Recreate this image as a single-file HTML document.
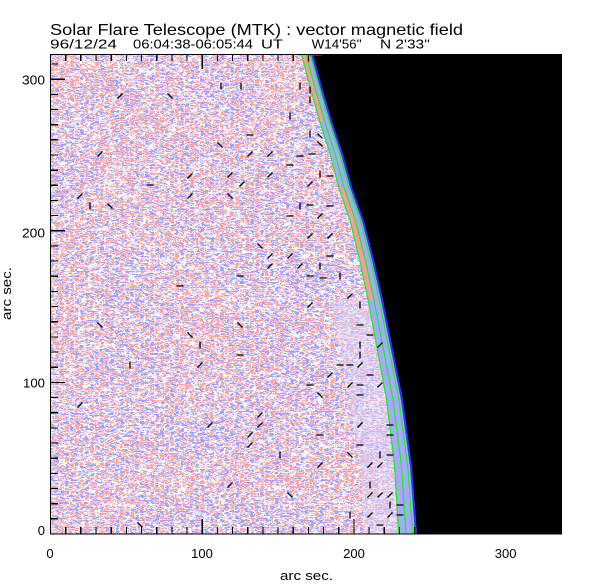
<!DOCTYPE html>
<html><head><meta charset="utf-8"><style>html,body{margin:0;padding:0;background:#fff}svg{display:block}</style></head>
<body>
<svg width="612" height="585" viewBox="0 0 612 585" xmlns="http://www.w3.org/2000/svg" font-family="'Liberation Sans', sans-serif">
<defs>
<filter id="nz" filterUnits="userSpaceOnUse" x="50" y="54" width="512" height="480" color-interpolation-filters="sRGB">
<feTurbulence type="fractalNoise" baseFrequency="0.2 0.45" numOctaves="2" seed="7" result="f0"/>
<feColorMatrix in="f0" type="matrix" values="1 0 0 0 0  1 0 0 0 0  0 0 0 0 1  0 0 0 0 1" result="f"/>
<feTurbulence type="fractalNoise" baseFrequency="0.012 0.02" numOctaves="2" seed="3" result="c0"/>
<feColorMatrix in="c0" type="matrix" values="1 0 0 0 0  1 0 0 0 0  0 0 0 0 1  0 0 0 0 1" result="c"/>
<feComposite in="f" in2="c" operator="arithmetic" k1="0" k2="0.95" k3="0.12" k4="-0.035"/>
<feComponentTransfer>
<feFuncR type="discrete" tableValues="0 0 0 0 0 0 0 0 0 0 0 0 0 0 0 0 0 0 0 0 0 0 0 0 0 0 0 0 1 1 1 1 1 1 1 1 1 1 1 1 1 1 1 1 1 1 1 1 1 1"/>
<feFuncG type="discrete" tableValues="1 1 1 1 1 1 1 1 1 1 1 1 1 1 1 1 1 1 1 1 1 1 0 0 0 0 0 0 0 0 0 0 0 0 0 0 0 0 0 0 0 0 0 0 0 0 0 0 0 0"/>
<feFuncB type="linear" slope="0" intercept="1"/>
<feFuncA type="linear" slope="0" intercept="1"/>
</feComponentTransfer>
<feColorMatrix type="matrix" values="0 -0.36 0 0 1  -0.36 -0.36 0 0 1  -0.36 0 0 0 1  0 0 0 0 1"/>
</filter>
</defs>

<!-- noise field -->
<rect x="50" y="54" width="512" height="480" fill="#fff" filter="url(#nz)"/>
<!-- bluish haze near limb -->
<polygon fill="#d8d8ff" opacity="0.45" points="330,300 340,350 350,400 360,467 365,534 398,534 394,467 386,400 377,350 367.5,300"/>

<!-- limb band -->
<polygon fill="#a8a8ff" points="301,54 309.5,87 319,121 329.5,154 338,187 349.5,221 359,260 367.5,300 377,350 386,400 394,467 398,534 417,534 412,467 403,400 393,350 383,300 374,260 364,221 352,187 343,154 332,121 322,87 313,54"/>
<polygon fill="#ff9a9a" points="339.5,187 351,221 360.5,260 369,300 373,300 364.5,260 355,221 343,187"/>
<polygon fill="#ff9a9a" points="302.5,54 311,87 320.5,121 323.5,121 314,87 305.5,54"/>
<g fill="none" stroke="#00ff00" stroke-width="1.1">
<polyline points="310.2,54 319.1,87 329,121 339.9,154 348.8,187 360.6,221 370.5,260 379.4,300 389.2,350 399,400 407.8,467 412.6,534"/>
<polyline points="306,54 314.7,87 324.5,121 335.2,154 343.9,187 355.6,221 365.3,260 374,300 383.6,350 393.1,400 401.6,467 406,534"/>
<polyline points="301.6,54 310.1,87 319.7,121 330.2,154 338.7,187 350.2,221 359.7,260 368.1,300 377.4,350 386.7,400 394.7,467 398.8,534"/>
</g>
<polyline fill="none" stroke="#3030ff" stroke-width="2" points="312,54 321,87 331,121 342,154 351,187 363,221 373,260 382,300 392,350 402,400 411,467 416,534"/>

<!-- black off-disk -->
<path fill="#000" d="M313,54 L322,87 L332,121 L343,154 L352,187 L364,221 L374,260 L383,300 L393,350 L403,400 L412,467 L417,534 L562,534 L562,54 Z"/>
<path fill="none" stroke="#ff2020" stroke-width="1.3" d="M308.5,55 L321,55 M308.5,55 L308.5,62"/>

<!-- vectors -->
<path fill="none" stroke="#000" stroke-width="1.3" d="
M117.5 98.5L122.5 93.5 M167.5 93.5L172.5 98.5 M221 82.5L221 89.5 M241 82.5L241 89.5 M300 82.5L300 89.5 M310 86.5L310 93.5
M290 112.5L290 119.5 M310 96.5L310 103.5 M246.5 135L253.5 135 M217.5 142.5L222.5 147.5 M97.5 156.5L102.5 151.5 M247.5 156.5L252.5 151.5
M267.5 156.5L272.5 151.5 M296.5 156L303.5 156 M308.5 154L315.5 154 M286.5 165L293.5 165 M310 130.5L310 137.5 M317.5 133.5L322.5 138.5
M317.5 141.5L322.5 146.5 M187.5 178.5L192.5 173.5 M146.5 185L153.5 185 M227.5 177.5L232.5 172.5 M239.5 186.5L244.5 181.5 M267.5 177.5L272.5 172.5
M307.5 186.5L312.5 181.5 M320 170.5L320 177.5 M326.5 176L333.5 176 M77.5 198.5L82.5 193.5 M90 202.5L90 209.5 M107.5 203.5L112.5 208.5
M187.5 198.5L192.5 193.5 M227.5 193.5L232.5 198.5 M300 202.5L300 209.5 M306.5 205L313.5 205 M326.5 206L333.5 206 M286.5 216L293.5 216
M317.5 218.5L322.5 213.5 M307.5 238.5L312.5 233.5 M327.5 238.5L332.5 233.5 M257.5 243.5L262.5 248.5 M267.5 258.5L272.5 253.5 M287.5 258.5L292.5 253.5
M267.5 268.5L272.5 263.5 M297.5 268.5L302.5 263.5 M320 262.5L320 269.5 M326.5 256L333.5 256 M236.5 276L243.5 276 M306.5 276L313.5 276
M319.5 278L326.5 278 M340 272.5L340 279.5 M176.5 286L183.5 286 M347.5 298.5L352.5 293.5
M307.5 307.5L312.5 302.5 M360 301.5L360 308.5 M97.5 322.5L102.5 327.5 M237.5 322.5L242.5 327.5 M187.5 332.5L192.5 337.5 M356.5 325L363.5 325
M366.5 335L373.5 335 M200 341.5L200 348.5 M360 341.5L360 348.5 M377.5 347.5L382.5 342.5 M236.5 355L243.5 355 M130 361.5L130 368.5
M197.5 367.5L202.5 362.5 M360 351.5L360 358.5 M336.5 365L343.5 365 M346.5 365L353.5 365 M357.5 367.5L362.5 362.5 M327.5 377.5L332.5 372.5
M366.5 375L373.5 375 M306.5 385L313.5 385 M317.5 392.5L322.5 397.5 M347.5 387.5L352.5 382.5 M356.5 385L363.5 385 M356.5 395L363.5 395
M377.5 387.5L382.5 382.5 M77.5 407.5L82.5 402.5 M257.5 417.5L262.5 412.5 M257.5 427.5L262.5 422.5 M207.5 427.5L212.5 422.5 M247.5 437.5L252.5 432.5
M247.5 447.5L252.5 442.5 M316.5 435L323.5 435 M357.5 427.5L362.5 422.5 M386.5 425L393.5 425 M386.5 435L393.5 435 M356.5 445L363.5 445
M280 451.5L280 458.5 M347.5 452.5L352.5 457.5 M380 451.5L380 458.5 M386.5 455L393.5 455 M317.5 467.5L322.5 462.5 M367.5 467.5L372.5 462.5
M377.5 467.5L382.5 462.5 M227.5 487.5L232.5 482.5 M287.5 492.5L292.5 497.5 M370 481.5L370 488.5 M367.5 497.5L372.5 492.5 M377.5 497.5L382.5 492.5
M387.5 497.5L392.5 492.5 M390 501.5L390 508.5 M396.5 505L403.5 505 M350 511.5L350 518.5 M367.5 517.5L372.5 512.5 M387.5 517.5L392.5 512.5
M396.5 515L403.5 515 M137.5 522.5L142.5 527.5 M376.5 525L383.5 525"/>

<!-- frame & ticks -->
<g stroke="#000" stroke-width="1.2" fill="none" shape-rendering="crispEdges">
<path d="M50.5,54 L50.5,534 L562,534 M50,54.5 L562,54.5"/>
<path d="M50.5,534V519 M65.7,534V527 M80.8,534V527 M96,534V527 M111.2,534V527 M126.4,534V527 M141.5,534V527 M156.7,534V527 M171.9,534V527 M187,534V527 M202.2,534V519 M217.4,534V527 M232.5,534V527 M247.7,534V527 M262.9,534V527 M278.1,534V527 M293.2,534V527 M308.4,534V527 M323.6,534V527 M338.7,534V527 M353.9,534V519 M369.1,534V527 M384.2,534V527 M399.4,534V527 M414.6,534V527"/>
<path d="M50.5,54V69 M65.7,54V61 M80.8,54V61 M96,54V61 M111.2,54V61 M126.4,54V61 M141.5,54V61 M156.7,54V61 M171.9,54V61 M187,54V61 M202.2,54V69 M217.4,54V61 M232.5,54V61 M247.7,54V61 M262.9,54V61 M278.1,54V61 M293.2,54V61 M308.4,54V61"/>
<path d="M50,518.8H58 M50,503.7H58 M50,488.5H58 M50,473.4H58 M50,458.2H58 M50,443H58 M50,427.9H58 M50,412.7H58 M50,397.6H58 M50,382.4H65 M50,367.2H58 M50,352.1H58 M50,336.9H58 M50,321.8H58 M50,306.6H58 M50,291.4H58 M50,276.3H58 M50,261.1H58 M50,246H58 M50,230.8H65 M50,215.6H58 M50,200.5H58 M50,185.3H58 M50,170.2H58 M50,155H58 M50,139.8H58 M50,124.7H58 M50,109.5H58 M50,94.4H58 M50,79.2H65 M50,64H58"/>
</g>

<!-- labels -->
<g fill="#000" font-size="13">
<text x="50" y="558" text-anchor="middle">0</text>
<text x="202" y="558" text-anchor="middle">100</text>
<text x="354" y="558" text-anchor="middle">200</text>
<text x="505.6" y="558" text-anchor="middle">300</text>
<text x="45" y="535" text-anchor="end">0</text>
<text x="45" y="387.5" text-anchor="end" textLength="22" lengthAdjust="spacingAndGlyphs">100</text>
<text x="45" y="237.5" text-anchor="end" textLength="23" lengthAdjust="spacingAndGlyphs">200</text>
<text x="45" y="84.5" text-anchor="end" textLength="23" lengthAdjust="spacingAndGlyphs">300</text>
<text x="280" y="580" textLength="53" lengthAdjust="spacingAndGlyphs">arc sec.</text>
<text transform="translate(11,320) rotate(-90)" x="0" y="0" textLength="53" lengthAdjust="spacingAndGlyphs">arc sec.</text>
</g>
<g fill="#000">
<text x="50" y="35" font-size="16" textLength="413" lengthAdjust="spacingAndGlyphs">Solar Flare Telescope (MTK) : vector magnetic field</text>
<text x="50" y="48.5" font-size="13" textLength="67" lengthAdjust="spacingAndGlyphs">96/12/24</text>
<text x="133" y="48.5" font-size="13" textLength="120" lengthAdjust="spacingAndGlyphs">06:04:38-06:05:44</text>
<text x="261" y="48.5" font-size="13" textLength="22" lengthAdjust="spacingAndGlyphs">UT</text>
<text x="311.7" y="48.5" font-size="13" textLength="50" lengthAdjust="spacingAndGlyphs">W14'56''</text>
<text x="380" y="48.5" font-size="13" textLength="50" lengthAdjust="spacingAndGlyphs">N 2'33''</text>
</g>
</svg>
</body></html>
